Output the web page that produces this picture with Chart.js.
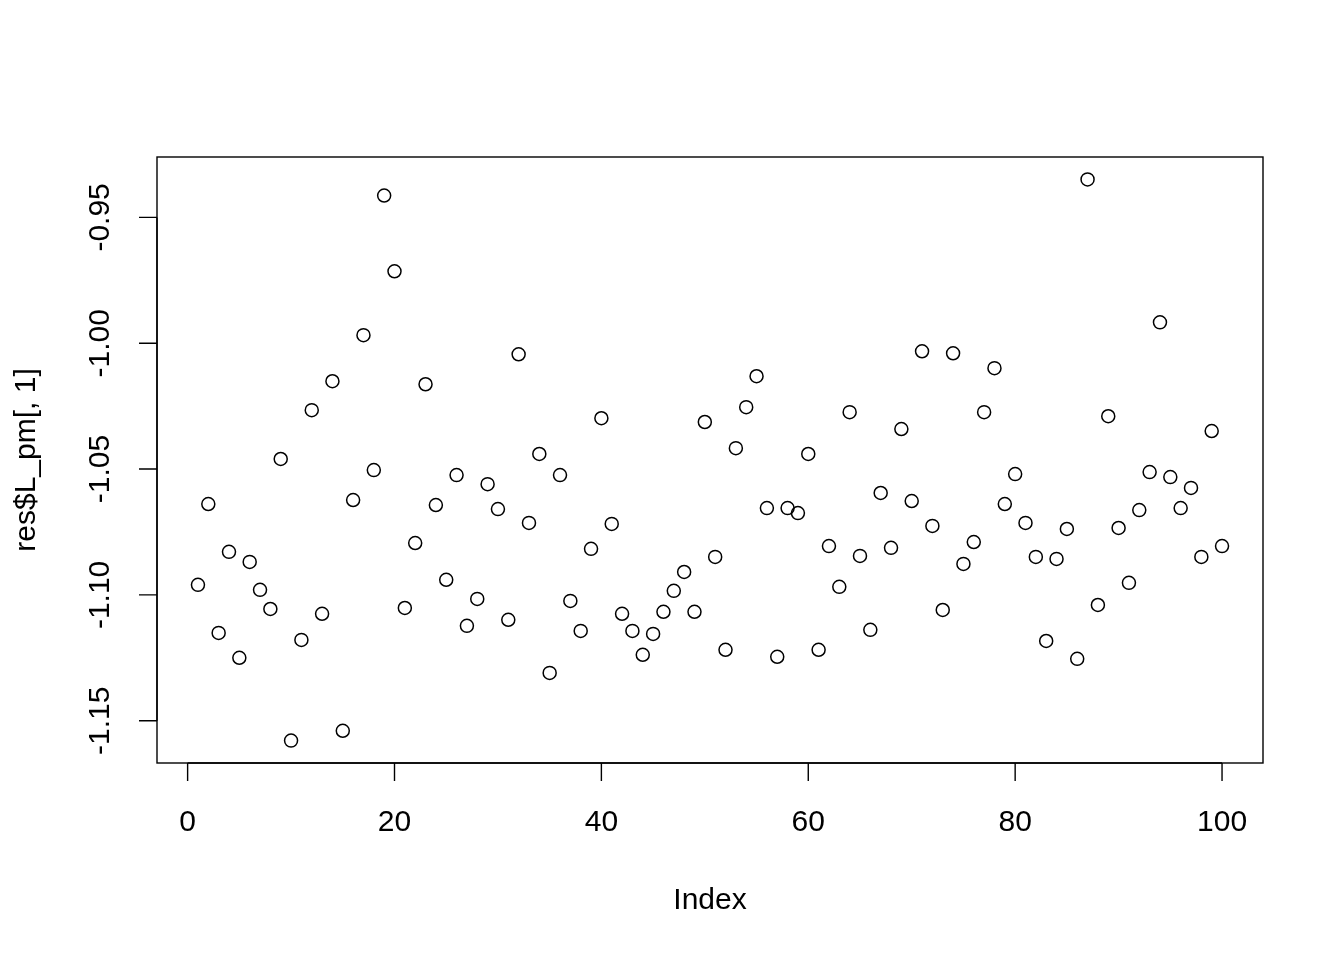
<!DOCTYPE html>
<html>
<head>
<meta charset="utf-8">
<script src="https://cdn.jsdelivr.net/npm/chart.js@4"></script>
<style>
  html, body { margin: 0; padding: 0; background: #fff; }
  #wrap { width: 1344px; height: 960px; }
</style>
</head>
<body>
<div id="wrap"><canvas id="plot" width="1344" height="960"></canvas></div>
<script>
// res$L_pm[, 1] plotted against its index
const lpmValues = [
  -1.0960, -1.0639, -1.1151, -1.0829, -1.1250, -1.0869, -1.0980, -1.1056, -1.0460, -1.1579,
  -1.1179, -1.0266, -1.1075, -1.0151, -1.1540, -1.0623, -0.9968, -1.0504, -0.9413, -0.9714,
  -1.1052, -1.0794, -1.0163, -1.0643, -1.0940, -1.0524, -1.1123, -1.1016, -1.0560, -1.0659,
  -1.1099, -1.0044, -1.0714, -1.0440, -1.1310, -1.0524, -1.1024, -1.1143, -1.0817, -1.0298,
  -1.0718, -1.1075, -1.1143, -1.1238, -1.1155, -1.1067, -1.0984, -1.0909, -1.1067, -1.0313,
  -1.0849, -1.1218, -1.0417, -1.0254, -1.0131, -1.0655, -1.1246, -1.0655, -1.0675, -1.0440,
  -1.1218, -1.0806, -1.0968, -1.0274, -1.0845, -1.1139, -1.0595, -1.0813, -1.0341, -1.0627,
  -1.0032, -1.0726, -1.1060, -1.0040, -1.0877, -1.0790, -1.0274, -1.0099, -1.0639, -1.0520,
  -1.0714, -1.0849, -1.1183, -1.0857, -1.0738, -1.1254, -0.9349, -1.1040, -1.0290, -1.0734,
  -1.0952, -1.0663, -1.0512, -0.9917, -1.0532, -1.0655, -1.0575, -1.0849, -1.0349, -1.0806
];
const xTicks = [0, 20, 40, 60, 80, 100];
const yTicks = [-1.15, -1.10, -1.05, -1.00, -0.95];
const yTickLabels = ['-1.15', '-1.10', '-1.05', '-1.00', '-0.95'];
const xTitle = 'Index';
const yTitle = 'res$L_pm[, 1]';

const points = lpmValues.map((v, i) => ({ x: i + 1, y: v }));

const FONT = '30px "Liberation Sans", Arial, sans-serif';

// draws the R-style box, axes, ticks and titles
const baseAxes = {
  id: 'baseAxes',
  afterDraw(chart) {
    const ctx = chart.ctx;
    const area = chart.chartArea;
    const xs = chart.scales.x;
    const ys = chart.scales.y;
    const tick = 18;
    ctx.save();
    ctx.strokeStyle = '#000';
    ctx.fillStyle = '#000';
    ctx.lineWidth = 1.4;
    ctx.strokeRect(area.left, area.top, area.right - area.left, area.bottom - area.top);

    // x axis
    ctx.beginPath();
    ctx.moveTo(xs.getPixelForValue(xTicks[0]), area.bottom);
    ctx.lineTo(xs.getPixelForValue(xTicks[xTicks.length - 1]), area.bottom);
    xTicks.forEach(t => {
      const px = xs.getPixelForValue(t);
      ctx.moveTo(px, area.bottom);
      ctx.lineTo(px, area.bottom + tick);
    });
    ctx.stroke();
    ctx.font = FONT;
    ctx.textAlign = 'center';
    ctx.textBaseline = 'middle';
    xTicks.forEach(t => {
      ctx.fillText(String(t), xs.getPixelForValue(t), 823);
    });
    ctx.fillText(xTitle, (area.left + area.right) / 2, 901);

    // y axis
    ctx.beginPath();
    ctx.moveTo(area.left, ys.getPixelForValue(yTicks[0]));
    ctx.lineTo(area.left, ys.getPixelForValue(yTicks[yTicks.length - 1]));
    yTicks.forEach(t => {
      const py = ys.getPixelForValue(t);
      ctx.moveTo(area.left, py);
      ctx.lineTo(area.left - tick, py);
    });
    ctx.stroke();
    yTicks.forEach((t, i) => {
      ctx.save();
      ctx.translate(101, ys.getPixelForValue(t));
      ctx.rotate(-Math.PI / 2);
      ctx.fillText(yTickLabels[i], 0, 0);
      ctx.restore();
    });
    ctx.save();
    ctx.translate(27, (area.top + area.bottom) / 2);
    ctx.rotate(-Math.PI / 2);
    ctx.fillText(yTitle, 0, 0);
    ctx.restore();
    ctx.restore();
  }
};

new Chart(document.getElementById('plot').getContext('2d'), {
  type: 'scatter',
  data: {
    datasets: [{
      data: points,
      pointStyle: 'circle',
      pointRadius: 6.5,
      pointHoverRadius: 6.5,
      pointBorderWidth: 1.5,
      pointBorderColor: '#000',
      pointBackgroundColor: 'rgba(0,0,0,0)'
    }]
  },
  options: {
    responsive: false,
    animation: false,
    devicePixelRatio: 1,
    layout: { padding: { left: 157, right: 81, top: 157, bottom: 197 } },
    plugins: { legend: { display: false }, tooltip: { enabled: false } },
    scales: {
      x: { type: 'linear', display: false, min: -2.96, max: 103.96 },
      y: { type: 'linear', display: false, min: -1.1668, max: -0.9260 }
    }
  },
  plugins: [baseAxes]
});
</script>
</body>
</html>
